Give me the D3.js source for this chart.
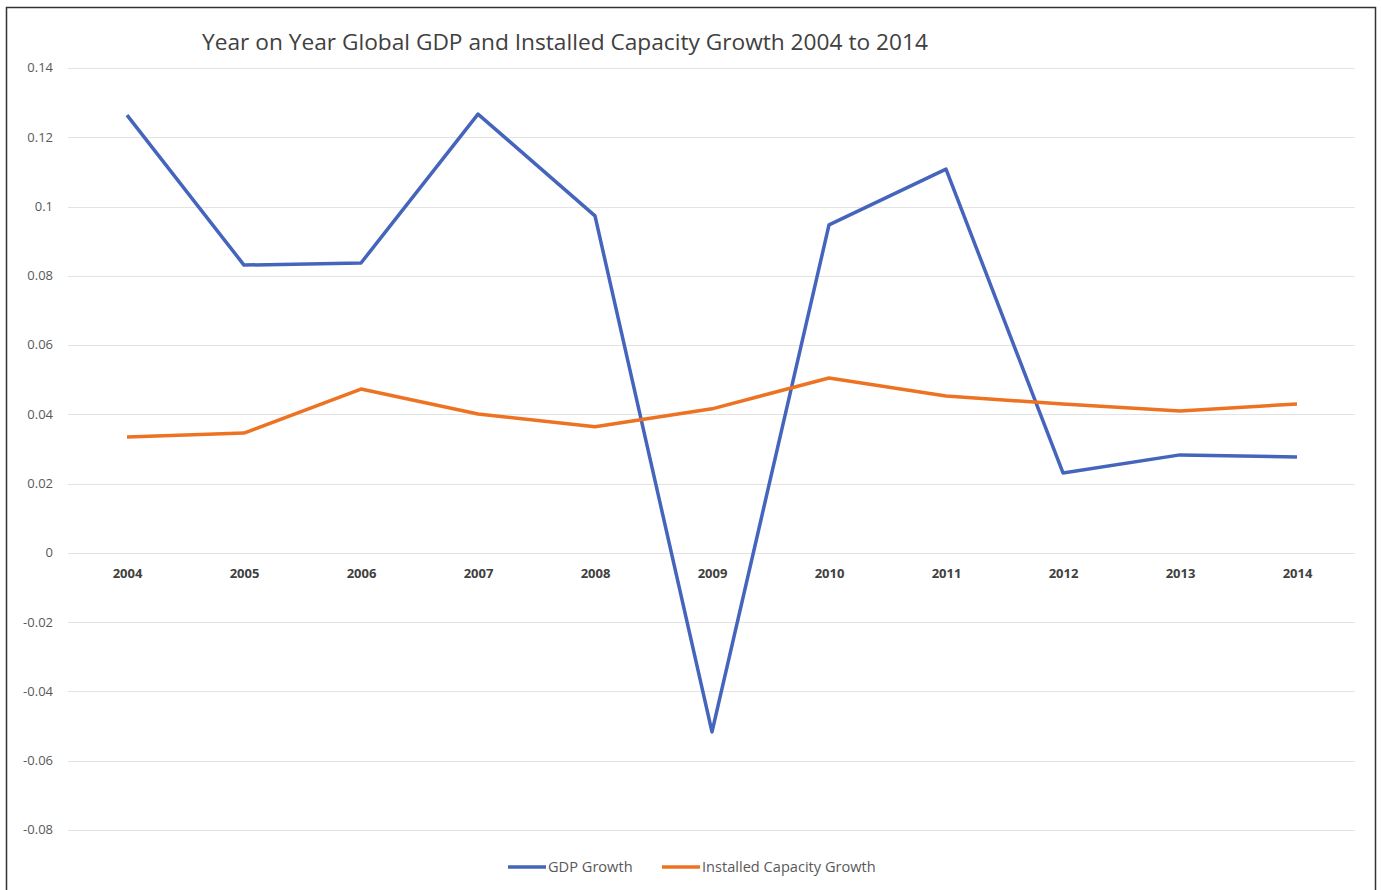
<!DOCTYPE html>
<html>
<head>
<meta charset="utf-8">
<script src="https://cdn.jsdelivr.net/npm/d3@7"></script>
<style>
	body { margin: 0; background: #fff; }
	svg { display: block; font-family: "Open Sans", "Noto Sans", sans-serif; }
	.grid line { stroke: #e3e3e3; stroke-width: 1; }
	.ylab text { fill: #595959; font-size: 13px; }
	.xlab text { fill: #404040; font-size: 13px; font-weight: bold; }
	.legend text { fill: #595959; font-size: 14.6px; }
</style>
</head>
<body>
<svg id="chart" width="1381" height="890"></svg>
<script>
"use strict";

var years = ["2004", "2005", "2006", "2007", "2008", "2009", "2010", "2011", "2012", "2013", "2014"];
var gdpGrowth = [0.1264, 0.0831, 0.0837, 0.1267, 0.0973, -0.0517, 0.0947, 0.1108, 0.0231, 0.0283, 0.0277];
var capacityGrowth = [0.0335, 0.0346, 0.0473, 0.0401, 0.0364, 0.0416, 0.0505, 0.0453, 0.0430, 0.0410, 0.0430];
var yTicks = [0.14, 0.12, 0.1, 0.08, 0.06, 0.04, 0.02, 0, -0.02, -0.04, -0.06, -0.08];
var seriesNames = ["GDP Growth", "Installed Capacity Growth"];
var seriesColors = ["#4565bd", "#ed7322"];

var svg = d3.select("#chart");

// frame
svg.append("rect")
	.attr("x", 6.5).attr("y", 7.5)
	.attr("width", 1369).attr("height", 900)
	.attr("fill", "none")
	.attr("stroke", "#333")
	.attr("stroke-width", 1.5);

svg.append("text")
	.attr("x", 565).attr("y", 50)
	.attr("text-anchor", "middle")
	.attr("fill", "#404040")
	.style("font-size", "22.7px")
	.text("Year on Year Global GDP and Installed Capacity Growth 2004 to 2014");

var x = d3.scalePoint()
	.domain(years)
	.range([127, 1297]);
var y = d3.scaleLinear()
	.domain([-0.08, 0.14])
	.range([830, 68]);

// gridlines
svg.append("g").attr("class", "grid")
	.selectAll("line")
	.data(yTicks)
	.enter().append("line")
	.attr("x1", 68).attr("x2", 1355)
	.attr("y1", d=>Math.round(y(d)) + 0.5)
	.attr("y2", d=>Math.round(y(d)) + 0.5);

// y labels (plain hyphen for negatives, like the original)
var yaxis = d3.axisLeft(y)
	.tickValues(yTicks)
	.tickSize(0)
	.tickPadding(0)
	.tickFormat(d=>String(+d.toFixed(2)));
svg.append("g").attr("class", "ylab")
	.attr("transform", "translate(53,0)")
	.call(yaxis)
	.attr("font-family", null).attr("font-size", null)
	.call(g=>g.select(".domain").remove())
	.call(g=>g.selectAll("text").attr("dy", "0.3em"));

// x labels sit just under zero
var xaxis = d3.axisBottom(x).tickSize(0).tickPadding(0);
svg.append("g").attr("class", "xlab")
	.attr("transform", `translate(0,${y(0) + 16})`)
	.call(xaxis)
	.attr("font-family", null).attr("font-size", null)
	.call(g=>g.select(".domain").remove());

var line = d3.line()
	.x((d, i)=>x(years[i]))
	.y(d=>y(d));

[gdpGrowth, capacityGrowth].forEach((vals, k)=>{
	svg.append("path")
		.datum(vals)
		.attr("d", line)
		.attr("fill", "none")
		.attr("stroke", seriesColors[k])
		.attr("stroke-width", 3.5)
		.attr("stroke-linejoin", "round");
});

// legend
var legend = svg.append("g").attr("class", "legend");
var legendX = [508, 662];
seriesNames.forEach((name, k)=>{
	var g = legend.append("g").attr("transform", `translate(${legendX[k]},867)`);
	g.append("line")
		.attr("x1", 0).attr("x2", 38)
		.attr("stroke", seriesColors[k])
		.attr("stroke-width", 3.5);
	g.append("text")
		.attr("x", 40).attr("dy", "0.35em")
		.text(name);
});
</script>
</body>
</html>
